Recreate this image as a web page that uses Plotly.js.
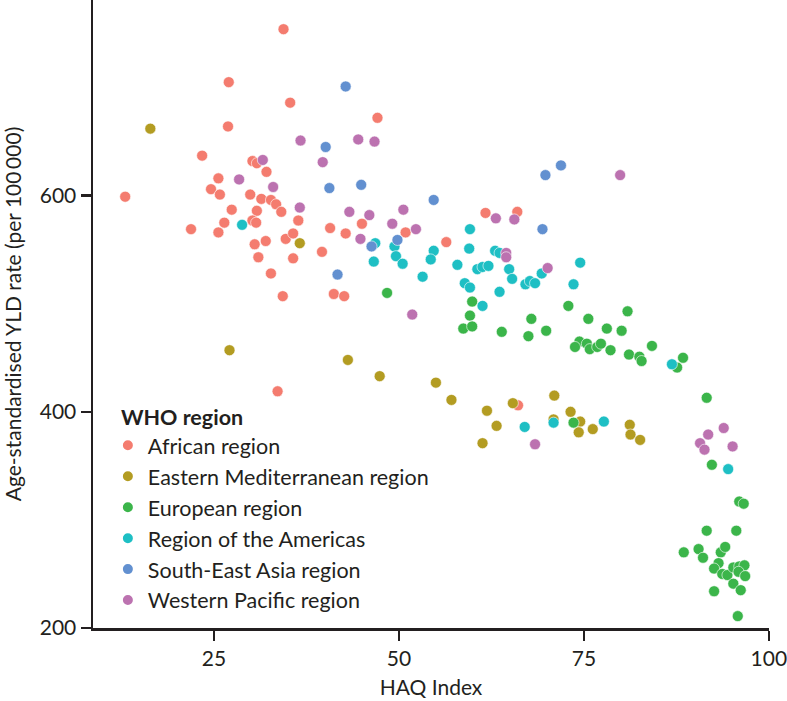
<!DOCTYPE html>
<html>
<head>
<meta charset="utf-8">
<script src="https://cdn.plot.ly/plotly-3.0.1.min.js"></script>
<style>html,body{margin:0;padding:0;background:#fff;}#chart{width:787px;height:701px;}</style>
</head>
<body>
<div id="chart"></div>
<script>
const regionNames = ["African region","Eastern Mediterranean region","European region","Region of the Americas","South-East Asia region","Western Pacific region"];
const regionColors = ["#F47C6F","#B39C22","#3BB54A","#1EBFC4","#6290D0","#BC72B0"];

const africanX = [34.4,27.0,35.3,26.9,23.4,30.2,30.8,32.1,25.6,24.6,25.8,29.9,31.4,32.7,33.4,13.0,27.4,30.8,34.1,26.4,30.2,30.7,21.9,25.6,30.5,32.0,34.7,35.7,31.0,32.7,34.3,33.6,47.1,36.4,40.7,42.8,45.0,50.9,35.7,39.6,56.4,41.2,42.6,61.7,66.0,66.1];
const africanY = [754,705,686,664,637,632,630,622,616,606,601,601,597,596,592,599,587,586,585,575,577,575,569,566,555,558,560,542,543,528,507,419,672,577,570,565,574,566,565,548,557,509,507,584,585,406];

const emrX = [16.4,27.1,36.6,43.1,47.4,55.0,57.1,71.0,65.4,61.9,73.2,63.2,70.9,74.5,74.3,76.2,81.2,81.3,82.6,61.3];
const emrY = [662,457,556,448,433,427,411,415,408,401,400,387,393,391,381,384,388,379,374,371];

const euroX = [48.4,59.9,59.6,58.7,59.9,72.9,80.9,67.9,75.6,63.9,67.5,69.9,78.1,80.1,74.4,73.8,75.4,75.8,76.8,77.3,78.6,81.1,82.5,82.8,84.2,88.4,87.6,73.6,91.6,92.3,96.0,96.6,91.6,95.6,88.5,90.5,91.1,93.5,94.1,93.2,92.6,93.7,94.4,95.2,96.0,96.7,95.9,96.8,95.2,96.2,92.6,95.8];
const euroY = [510,502,489,477,479,498,493,486,486,474,470,475,477,475,465,460,463,458,460,463,457,453,451,447,461,450,441,390,413,351,317,315,290,290,270,273,265,270,275,260,255,250,249,256,257,258,252,248,241,235,234,211];

const amrX = [28.8,46.8,49.4,49.6,50.5,46.6,59.6,59.5,54.7,54.3,57.9,60.6,53.2,58.9,59.6,63.0,63.6,61.3,62.1,64.9,65.3,69.3,74.5,67.1,67.7,68.4,73.6,63.6,61.3,86.9,67.0,70.9,77.7,94.5];
const amrY = [573,556,553,544,537,539,569,551,549,541,536,532,525,519,515,549,547,534,535,532,523,528,538,518,521,519,518,511,498,444,386,390,391,347];

const searX = [42.8,40.1,40.6,44.9,54.7,41.7,46.3,49.8,71.9,69.8,69.4];
const searY = [701,645,607,610,596,527,553,559,628,619,569];

const wprX = [31.6,28.4,33.0,36.7,44.5,46.7,39.7,36.6,43.3,46.0,50.6,49.1,52.3,44.8,51.8,79.9,63.1,65.6,64.5,64.5,70.1,68.4,93.9,91.8,90.7,91.3,95.1];
const wprY = [633,615,608,651,652,650,631,589,585,582,587,574,569,560,490,619,579,578,547,543,533,370,385,379,371,365,368];

const xTicks = [25,50,75,100];
const yTicks = [200,400,600];

const seriesX = [africanX, emrX, euroX, amrX, searX, wprX];
const seriesY = [africanY, emrY, euroY, amrY, searY, wprY];

const FONT = "Lato, 'Open Sans', sans-serif";
const INK = "#231f20";
const traces = regionNames.map((name, i) => ({
  type: "scatter",
  mode: "markers",
  name: name,
  legendgroup: "g" + i,
  x: seriesX[i],
  y: seriesY[i],
  cliponaxis: false,
  marker: {color: regionColors[i], size: 11, opacity: 1, line: {color: "#ffffff", width: 0.6}}
}));

const layout = {
  width: 787, height: 701,
  margin: {l: 93, r: 18, t: 0, b: 73},
  paper_bgcolor: "#ffffff", plot_bgcolor: "#ffffff",
  font: {family: FONT, size: 21, color: INK},
  showlegend: true,
  legend: {
    x: 0.022, y: 0.368, xanchor: "left", yanchor: "top",
    bgcolor: "rgba(0,0,0,0)", borderwidth: 0,
    tracegroupgap: 0,
    itemsizing: "constant",
    font: {family: FONT, size: 21.5, color: INK},
    title: {text: "\u00a0\u00a0<b>WHO region</b>", font: {family: FONT, size: 21.5, color: INK}}
  },
  xaxis: {
    range: [8.65, 100.02],
    tickmode: "array", tickvals: xTicks, ticktext: xTicks.map(String),
    ticklabeloverflow: "allow",
    showgrid: false, zeroline: false,
    showline: true, linecolor: INK, linewidth: 2.5,
    ticks: "outside", ticklen: 10, tickwidth: 2.5, tickcolor: INK,
    tickfont: {family: FONT, size: 21, color: INK},
    title: {text: "HAQ Index", font: {family: FONT, size: 21, color: INK}, standoff: 12}
  },
  yaxis: {
    range: [200, 781],
    tickmode: "array", tickvals: yTicks, ticktext: yTicks.map(String),
    showgrid: false, zeroline: false,
    showline: true, linecolor: INK, linewidth: 2.5,
    ticks: "outside", ticklen: 10, tickwidth: 2.5, tickcolor: INK,
    tickfont: {family: FONT, size: 21, color: INK},
    title: {text: "Age-standardised YLD rate (per 100\u2009000)", font: {family: FONT, size: 21, color: INK}, standoff: 16}
  }
};

Plotly.newPlot("chart", traces, layout, {displayModeBar: false, staticPlot: true});
</script>
</body>
</html>
